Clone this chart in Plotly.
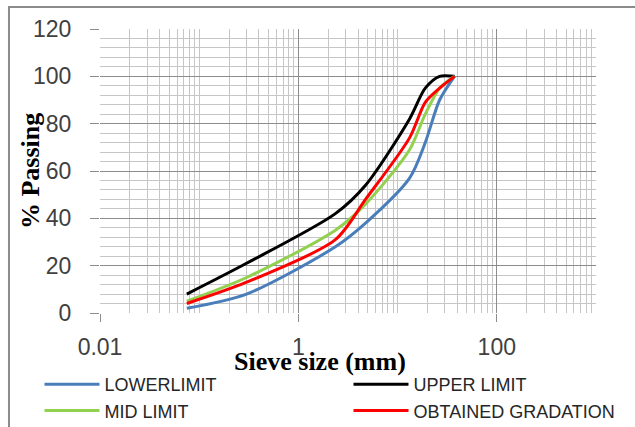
import plotly.graph_objects as go

# Sieve sizes (mm) and % passing
sieve_mm = [0.075, 0.3, 2.36, 4.75, 13.2, 19, 26.5, 37.5]
lower_limit = [2, 8, 28, 38, 57, 72, 90, 100]
upper_limit = [8, 21, 42, 54, 82, 95, 100, 100]
mid_limit = [5, 15, 35, 46, 69, 84, 95, 100]
obtained = [4, 13, 31, 48, 74, 89, 95, 100]

x_tickvals = [0.01, 1, 100]
x_ticktext = ["0.01", "1", "100"]

# minor log gridlines (1..9 per decade), styling only
x_minor = [m * 10.0 ** e for e in range(-2, 3) for m in range(1, 10)] + [1000.0]

series = [
    ("LOWERLIMIT", lower_limit, "#4a7ebb", "legend"),
    ("UPPER LIMIT", upper_limit, "#000000", "legend2"),
    ("MID LIMIT", mid_limit, "#92d050", "legend"),
    ("OBTAINED GRADATION", obtained, "#ff0000", "legend2"),
]

fig = go.Figure()
for name, vals, col, lg in series:
    fig.add_trace(go.Scatter(
        x=sieve_mm, y=vals, name=name, mode="lines", legend=lg,
        line=dict(color=col, width=3, shape="spline", smoothing=0.8),
    ))

tick_font = dict(family="Liberation Sans, Arial, sans-serif", size=23, color="#404040")
leg_font = dict(family="Liberation Sans, Arial, sans-serif", size=18, color="#262626")

fig.update_layout(
    width=635, height=427,
    margin=dict(l=100, r=39, t=29, b=114, autoexpand=False),
    paper_bgcolor="white", plot_bgcolor="white",
    showlegend=True,
    legend=dict(
        orientation="v", x=-0.122, xanchor="left", y=-0.1865, yanchor="top",
        font=leg_font, tracegroupgap=0, bgcolor="rgba(0,0,0,0)", itemwidth=55,
    ),
    legend2=dict(
        orientation="v", x=0.501, xanchor="left", y=-0.1865, yanchor="top",
        font=leg_font, tracegroupgap=0, bgcolor="rgba(0,0,0,0)", itemwidth=55,
    ),
    xaxis=dict(
        type="log", range=[-2, 3],
        tickmode="array", tickvals=x_tickvals, ticktext=x_ticktext,
        ticks="outside", ticklen=8, tickcolor="#8c8c8c", tickwidth=1,
        ticklabelstandoff=5,
        tickfont=tick_font,
        showgrid=True, gridcolor="#8c8c8c", gridwidth=1,
        minor=dict(tickmode="array", tickvals=x_minor, showgrid=True,
                   gridcolor="#c6c6c6", gridwidth=1, ticks=""),
        zeroline=False, showline=False,
    ),
    yaxis=dict(
        range=[0, 120], dtick=20, tick0=0,
        ticks="outside", ticklen=9, tickcolor="#8c8c8c", tickwidth=1,
        ticklabelstandoff=14,
        tickfont=tick_font,
        showgrid=True, gridcolor="#8c8c8c", gridwidth=1,
        minor=dict(dtick=4, showgrid=True, gridcolor="#c6c6c6", gridwidth=1, ticks=""),
        zeroline=False, showline=False,
    ),
    annotations=[
        dict(text="<b>Sieve size (mm)</b>", xref="paper", yref="paper",
             x=0.4435, y=-0.1725, xanchor="center", yanchor="middle", showarrow=False,
             font=dict(family="Liberation Serif, Times New Roman, serif", size=26, color="#000000")),
        dict(text="<b>% Passing</b>", xref="paper", yref="paper", textangle=-90,
             x=-0.141, y=0.5, xanchor="center", yanchor="middle", showarrow=False,
             font=dict(family="Liberation Serif, Times New Roman, serif", size=26, color="#000000")),
    ],
    shapes=[
        dict(type="rect", xref="paper", yref="paper",
             x0=-0.1835, x1=2.0, y0=-2.0, y1=1.0775,
             line=dict(color="#8c8c8c", width=2), fillcolor="rgba(0,0,0,0)", layer="below"),
    ],
)

fig.write_html("out.html")
